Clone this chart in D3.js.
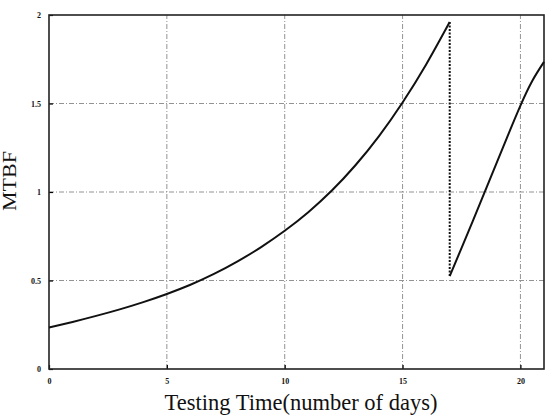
<!DOCTYPE html>
<html lang="en">
<head>
    <meta charset="UTF-8">
    <title>MTBF vs Testing Time</title>
    <style>
        body { margin: 0; background: #fff; }
        svg { display: block; }
    </style>
</head>
<body>
    <div id="chart"></div>

    <script src="https://d3js.org/d3.v7.min.js"></script>

    <script>
        // MTBF growth before the fix at day 17
        const daysA = [0, 1, 2, 3, 4, 5, 6, 7, 8, 9, 10, 11, 12, 13, 14, 15, 16, 17];
        const mtbfA = [0.235, 0.266, 0.300, 0.337, 0.378, 0.424, 0.476, 0.537, 0.608, 0.689, 0.781, 0.886, 1.008, 1.151, 1.316, 1.506, 1.721, 1.961];

        // drop at day 17 (dotted)
        const daysDrop = [17, 17];
        const mtbfDrop = [1.961, 0.525];

        // growth after the drop
        const daysB = [17, 17.5, 18, 18.5, 19, 19.5, 20, 20.5, 21];
        const mtbfB = [0.525, 0.683, 0.843, 1.005, 1.168, 1.33, 1.488, 1.627, 1.735];

        const xTicks = [0, 5, 10, 15, 20];
        const yTicks = [0, 0.5, 1, 1.5, 2];
        const yTickLabels = ["0", "0.5", "1", "1.5", "2"];

        const width = 549, height = 415;
        const margin = { top: 15, right: 5, bottom: 46, left: 49 };

        const svg = d3.select("#chart").append("svg")
            .attr("width", width)
            .attr("height", height);

        const x = d3.scaleLinear().domain([0, 21]).range([margin.left, width - margin.right]);
        const y = d3.scaleLinear().domain([0, 2]).range([height - margin.bottom, margin.top]);

        // grid lines (dash-dot)
        svg.append("g").selectAll("line")
            .data(xTicks.slice(1))
            .join("line")
                .attr("x1", d => x(d)).attr("x2", d => x(d))
                .attr("y1", y(0)).attr("y2", y(2))
                .attr("stroke", "#777")
                .attr("stroke-width", 0.8)
                .attr("stroke-dasharray", "5,2,1,2");

        svg.append("g").selectAll("line")
            .data(yTicks.slice(1, -1))
            .join("line")
                .attr("x1", x(0)).attr("x2", x(21))
                .attr("y1", d => y(d)).attr("y2", d => y(d))
                .attr("stroke", "#777")
                .attr("stroke-width", 0.8)
                .attr("stroke-dasharray", "5,2,1,2");

        // axes with inward ticks
        const xAxis = d3.axisBottom(x).tickValues(xTicks).tickSize(-4).tickPadding(9);
        const yAxis = d3.axisLeft(y).tickValues(yTicks).tickSize(-4).tickPadding(8)
            .tickFormat((d, i) => yTickLabels[i]);

        const gx = svg.append("g")
            .attr("transform", `translate(0,${y(0)})`)
            .call(xAxis);
        const gy = svg.append("g")
            .attr("transform", `translate(${x(0)},0)`)
            .call(yAxis);

        [gx, gy].forEach(g => {
            g.select(".domain").remove();
            g.selectAll(".tick line").attr("stroke", "#000").attr("stroke-width", 1.2);
            g.selectAll("text")
                .attr("font-family", "'Liberation Serif', 'DejaVu Serif', serif")
                .attr("font-size", 8)
                .attr("font-weight", "bold")
                .attr("fill", "#111");
        });

        // frame
        svg.append("rect")
            .attr("x", x(0)).attr("y", y(2))
            .attr("width", x(21) - x(0))
            .attr("height", y(0) - y(2))
            .attr("fill", "none")
            .attr("stroke", "#222")
            .attr("stroke-width", 1.6);

        const line = d3.line()
            .x(d => x(d[0]))
            .y(d => y(d[1]))
            .curve(d3.curveNatural);

        svg.append("path")
            .datum(daysA.map((d, i) => [d, mtbfA[i]]))
            .attr("d", line)
            .attr("fill", "none")
            .attr("stroke", "#111")
            .attr("stroke-width", 2);

        svg.append("path")
            .datum(daysDrop.map((d, i) => [d, mtbfDrop[i]]))
            .attr("d", d3.line().x(d => x(d[0])).y(d => y(d[1])))
            .attr("fill", "none")
            .attr("stroke", "#111")
            .attr("stroke-width", 2)
            .attr("stroke-dasharray", "2,1.5");

        svg.append("path")
            .datum(daysB.map((d, i) => [d, mtbfB[i]]))
            .attr("d", line)
            .attr("fill", "none")
            .attr("stroke", "#111")
            .attr("stroke-width", 2);

        // axis labels
        svg.append("text")
            .attr("x", 301)
            .attr("y", 410)
            .attr("text-anchor", "middle")
            .attr("font-family", "'Liberation Serif', serif")
            .attr("font-size", 22.5)
            .attr("fill", "#111")
            .text("Testing Time(number of days)");

        svg.append("text")
            .attr("transform", `translate(16,${181}) rotate(-90)`)
            .attr("text-anchor", "middle")
            .attr("font-family", "'Liberation Serif', serif")
            .attr("font-size", 18)
            .attr("textLength", 60)
            .attr("lengthAdjust", "spacingAndGlyphs")
            .attr("fill", "#111")
            .text("MTBF");
    </script>
</body>
</html>
